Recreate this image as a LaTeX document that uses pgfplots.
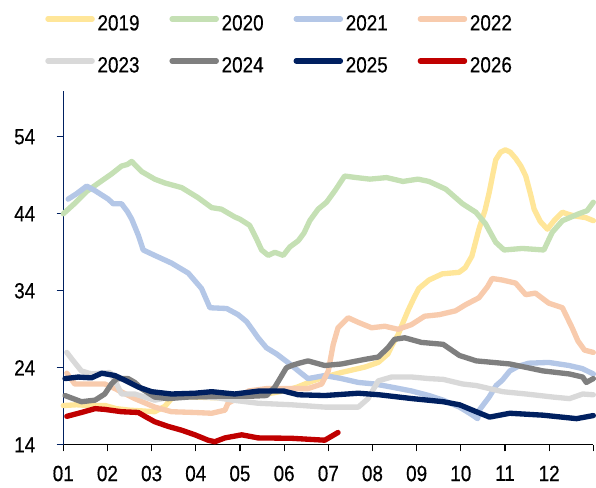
\documentclass[border=0pt]{standalone}
\usepackage{fontspec}
\setmainfont{Liberation Sans}[FakeStretch=0.86,FakeBold=0.4]
\usepackage{pgfplots}
\pgfplotsset{compat=1.18}
\definecolor{c19}{HTML}{FFE699}
\definecolor{c20}{HTML}{C5E0B4}
\definecolor{c21}{HTML}{B4C7E7}
\definecolor{c22}{HTML}{F8CBAD}
\definecolor{c23}{HTML}{D9D9D9}
\definecolor{c24}{HTML}{7F7F7F}
\definecolor{c25}{HTML}{002060}
\definecolor{c26}{HTML}{C00000}
\newcommand{\lgbox}[1]{\makebox[52pt][l]{#1}}
\begin{document}
\begin{tikzpicture}[font=\fontsize{16.5}{19}\selectfont]
\begin{axis}[name=ax, scale only axis, width=398pt, height=266pt,
  xmin=0, xmax=12, ymin=14, ymax=60,
  axis x line*=bottom, axis y line*=left,
  x axis line style={black, line width=0.9pt, -},
  y axis line style={c25, line width=0.9pt, -},
  xtick={0,...,12},
  xticklabels={01,02,03,04,05,06,07,08,09,10,11,12,{}},
  ytick={14,24,34,44,54},
  tick align=outside, major tick length=5pt,
  xtick style={black, line width=0.9pt},
  ytick style={c25, line width=0.9pt},
  /pgf/number format/assume math mode=true,
  tick label style={font=\fontsize{16.5}{19}\selectfont},
  yticklabel style={xshift=-12.5pt},
  xticklabel style={anchor=north, inner sep=0pt, yshift=-10.5pt},
  clip=false,
  legend columns=4,
  legend style={draw=none, fill=none, at={(axis description cs:-0.0344,1.1294)}, anchor=west,
    inner sep=0pt, row sep=18.5pt, column sep=2pt, nodes={inner sep=0pt}},
  legend image code/.code={\draw[#1,line cap=round] (1.8pt,0.36em) -- (35pt,0.36em);},
  every axis plot/.append style={line width=4pt, line join=round, line cap=round, mark=none},
]
\addplot[c19] coordinates {(0.0,19.1) (0.3,19.2) (0.6,19.1) (0.95,19.1) (1.2,18.7) (1.5,18.5) (1.8,18.4) (2.07,18.3) (2.3,19.0) (2.45,20.0) (2.6,20.3) (3.0,20.2) (3.5,20.1) (4.0,20.3) (4.5,20.5) (5.0,21.0) (5.3,21.5) (5.6,22.2) (5.92,22.8) (6.3,23.4) (6.83,24.1) (7.13,24.7) (7.35,25.8) (7.45,27.0) (7.58,28.3) (7.7,30.0) (7.81,31.5) (7.95,33.2) (8.05,34.3) (8.28,35.4) (8.58,36.2) (8.96,36.4) (9.1,37.0) (9.25,38.5) (9.41,42.0) (9.55,44.5) (9.64,46.7) (9.72,49.0) (9.79,51.0) (9.9,52.0) (10.01,52.3) (10.12,52.0) (10.24,51.2) (10.36,50.2) (10.47,48.9) (10.58,46.5) (10.66,44.6) (10.8,43.0) (10.96,42.0) (11.11,43.1) (11.3,44.2) (11.45,43.9) (11.6,43.7) (11.83,43.5) (12.0,43.1)};
\addlegendentry{\lgbox{2019}}
\addplot[c20] coordinates {(0.0,44.0) (0.25,45.3) (0.53,46.9) (0.8,48.0) (1.1,49.2) (1.32,50.2) (1.45,50.4) (1.55,50.8) (1.65,50.2) (1.77,49.5) (2.07,48.5) (2.3,48.0) (2.68,47.4) (3.05,46.1) (3.36,44.8) (3.58,44.6) (3.88,43.6) (4.0,43.3) (4.22,42.5) (4.37,40.8) (4.49,39.3) (4.64,38.6) (4.79,39.0) (4.98,38.6) (5.13,39.7) (5.32,40.5) (5.45,41.5) (5.58,43.1) (5.77,44.6) (5.96,45.5) (6.15,47.0) (6.37,48.9) (6.64,48.7) (6.94,48.5) (7.32,48.7) (7.69,48.2) (8.03,48.5) (8.28,48.2) (8.66,47.2) (9.04,45.3) (9.34,44.2) (9.56,42.7) (9.79,40.3) (9.98,39.3) (10.39,39.5) (10.88,39.3) (11.07,41.6) (11.3,43.1) (11.67,44.0) (11.86,44.4) (12.0,45.5)};
\addlegendentry{\lgbox{2020}}
\addplot[c21] coordinates {(0.11,45.9) (0.3,46.6) (0.53,47.6) (0.72,47.0) (1.02,45.9) (1.13,45.3) (1.32,45.3) (1.45,44.3) (1.55,43.3) (1.70,41.2) (1.81,39.3) (2.07,38.6) (2.45,37.6) (2.83,36.3) (3.13,34.3) (3.32,31.8) (3.70,31.7) (3.96,30.9) (4.15,30.0) (4.30,28.8) (4.41,27.9) (4.60,26.6) (4.83,25.8) (5.13,24.5) (5.32,23.6) (5.54,22.6) (5.92,23.0) (6.3,22.6) (6.68,22.1) (7.05,21.9) (7.43,21.5) (7.88,21.0) (8.28,20.4) (8.6,19.8) (8.97,18.9) (9.2,18.1) (9.38,17.4) (9.43,18.6) (9.64,20.2) (9.8,21.7) (9.94,22.4) (10.11,23.6) (10.3,24.2) (10.54,24.6) (10.99,24.7) (11.45,24.3) (11.75,23.9) (12.0,23.2)};
\addlegendentry{\lgbox{2021}}
\addplot[c22] coordinates {(0.08,23.3) (0.26,21.9) (0.57,21.9) (0.94,21.9) (1.17,21.3) (1.62,20.0) (2.07,18.9) (2.45,18.3) (2.98,18.2) (3.36,18.1) (3.66,18.5) (3.73,19.4) (3.92,20.0) (4.2,21.0) (4.6,21.3) (5.02,21.3) (5.54,21.3) (5.85,21.9) (6.0,23.6) (6.11,27.0) (6.22,29.2) (6.45,30.5) (6.68,29.9) (6.98,29.2) (7.28,29.4) (7.58,29.0) (7.88,29.6) (8.18,30.7) (8.51,30.9) (8.88,31.4) (9.11,32.2) (9.41,33.1) (9.6,34.5) (9.71,35.6) (9.94,35.4) (10.24,35.0) (10.47,33.5) (10.69,33.7) (10.99,32.4) (11.3,31.8) (11.52,29.2) (11.65,27.5) (11.8,26.3) (12.0,26.0)};
\addlegendentry{\lgbox{2022}}
\addplot[c23] coordinates {(0.08,26.0) (0.2,25.1) (0.41,23.6) (0.64,23.2) (1.06,23.4) (1.2,22.0) (1.32,20.6) (1.62,20.6) (2.07,19.8) (2.5,20.3) (3.0,20.3) (3.5,20.1) (3.84,19.8) (4.41,19.4) (5.17,19.2) (5.92,18.9) (6.68,18.9) (6.9,20.0) (7.13,22.3) (7.43,22.8) (7.9,22.8) (8.28,22.6) (8.6,22.5) (9.04,21.9) (9.35,21.7) (9.95,20.9) (10.48,20.6) (11.09,20.2) (11.46,20.0) (11.76,20.6) (12.0,20.5)};
\addlegendentry{\lgbox{2023}}
\addplot[c24] coordinates {(0.04,20.4) (0.41,19.6) (0.72,19.8) (0.94,20.6) (1.09,21.9) (1.21,22.6) (1.47,22.6) (1.62,22.1) (1.77,21.3) (2.07,20.2) (2.37,20.0) (2.83,20.2) (3.5,20.3) (4.2,20.3) (4.6,20.4) (4.79,21.5) (5.05,24.0) (5.17,24.3) (5.34,24.6) (5.54,24.9) (5.92,24.3) (6.3,24.5) (6.83,25.1) (7.13,25.4) (7.35,26.6) (7.5,27.7) (7.73,27.9) (8.11,27.3) (8.6,27.05) (8.97,25.6) (9.35,24.9) (10.11,24.5) (10.86,23.6) (11.46,23.2) (11.76,22.8) (11.84,22.1) (12.0,22.6)};
\addlegendentry{\lgbox{2024}}
\addplot[c25] coordinates {(0.04,22.6) (0.34,22.8) (0.64,22.7) (0.87,23.3) (1.17,23.0) (1.39,22.4) (1.70,21.5) (2.0,20.9) (2.45,20.6) (2.98,20.7) (3.36,20.9) (3.88,20.6) (4.45,21.0) (4.98,21.0) (5.32,20.5) (5.92,20.4) (6.68,20.7) (7.15,20.5) (7.9,20.0) (8.6,19.6) (8.97,19.2) (9.35,18.3) (9.65,17.6) (10.11,18.1) (10.86,17.85) (11.62,17.4) (12.0,17.8)};
\addlegendentry{\lgbox{2025}}
\addplot[c26] coordinates {(0.08,17.7) (0.41,18.2) (0.72,18.7) (0.94,18.6) (1.32,18.3) (1.70,18.2) (1.85,17.7) (2.07,17.0) (2.37,16.4) (2.68,15.9) (2.98,15.3) (3.28,14.6) (3.43,14.4) (3.66,14.9) (4.04,15.3) (4.41,14.9) (5.17,14.85) (5.77,14.65) (5.92,14.6) (6.07,15.1) (6.22,15.6)};
\addlegendentry{\lgbox{2026}}
\end{axis}
\path ([xshift=-47.5pt,yshift=-32pt]ax.south west) rectangle ([xshift=1.5pt,yshift=68pt]ax.north east);
\end{tikzpicture}
\end{document}
